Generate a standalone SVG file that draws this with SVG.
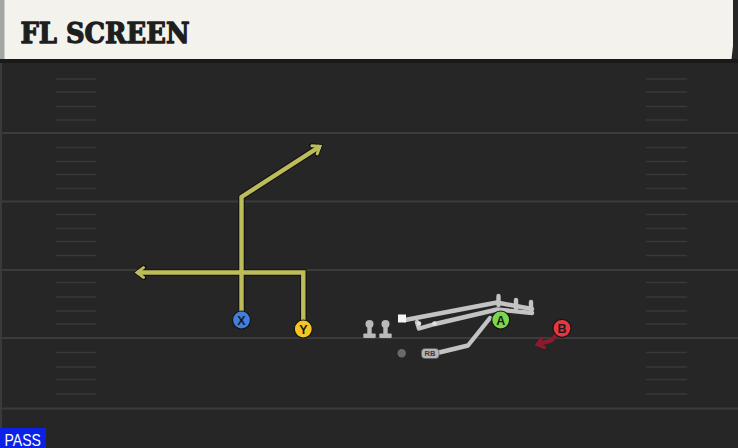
<svg xmlns="http://www.w3.org/2000/svg" width="738" height="448" viewBox="0 0 738 448">
<style>
.yard{stroke:#3b3b3b;stroke-width:2}
.hash{stroke:#383838;stroke-width:1.6}
.rt{fill:none;stroke:#bcbc5a;stroke-width:4.4;stroke-linejoin:miter}
.rtb{fill:none;stroke:#111;stroke-width:6.4;stroke-linejoin:miter}
.gr{fill:none;stroke:#c3c3c3;stroke-width:4.4;stroke-linecap:round;stroke-linejoin:round}
.lbl{font-family:"Liberation Sans","DejaVu Sans",sans-serif;font-weight:bold;font-size:12.5px;fill:#1b1b1b;text-anchor:middle}
.pc{stroke:#151515;stroke-width:1.2}
</style>
<defs>
<marker id="ay" viewBox="0 0 12 12" refX="9" refY="6" markerWidth="13" markerHeight="13" markerUnits="userSpaceOnUse" orient="auto">
<path d="M3,1.5 L9,6 L3,10.5" fill="none" stroke="#bcbc5a" stroke-width="2.8" stroke-linecap="round"/>
</marker>
<marker id="ab" viewBox="0 0 14 14" refX="10" refY="7" markerWidth="15" markerHeight="15" markerUnits="userSpaceOnUse" orient="auto">
<path d="M3.5,2 L10,7 L3.5,12" fill="none" stroke="#111" stroke-width="4.4" stroke-linecap="round"/>
</marker>
<marker id="ar" viewBox="0 0 12 12" refX="9" refY="6" markerWidth="13" markerHeight="13" markerUnits="userSpaceOnUse" orient="auto">
<path d="M3,1.5 L9,6 L3,10.5" fill="none" stroke="#8e1b2c" stroke-width="2.8" stroke-linecap="round"/>
</marker>
</defs>

<!-- field -->
<rect x="0" y="0" width="738" height="448" fill="#262626"/>
<rect x="0" y="59" width="738" height="4" fill="#1a1a1a"/>
<rect x="0" y="63" width="2" height="385" fill="#3a3a3a"/>

<g id="field-lines">
<line class="yard" x1="0" y1="133" x2="738" y2="133"/>
<line class="yard" x1="0" y1="201.5" x2="738" y2="201.5"/>
<line class="yard" x1="0" y1="270" x2="738" y2="270"/>
<line class="yard" x1="0" y1="338" x2="738" y2="338"/>
<line class="yard" x1="0" y1="408.5" x2="738" y2="408.5"/>
<g id="hash-left">
<line class="hash" x1="56" y1="79" x2="96" y2="79"/>
<line class="hash" x1="56" y1="92" x2="96" y2="92"/>
<line class="hash" x1="56" y1="106.5" x2="96" y2="106.5"/>
<line class="hash" x1="56" y1="120" x2="96" y2="120"/>
<line class="hash" x1="56" y1="147.5" x2="96" y2="147.5"/>
<line class="hash" x1="56" y1="161.5" x2="96" y2="161.5"/>
<line class="hash" x1="56" y1="174.5" x2="96" y2="174.5"/>
<line class="hash" x1="56" y1="188.5" x2="96" y2="188.5"/>
<line class="hash" x1="56" y1="214.5" x2="96" y2="214.5"/>
<line class="hash" x1="56" y1="228.5" x2="96" y2="228.5"/>
<line class="hash" x1="56" y1="241.5" x2="96" y2="241.5"/>
<line class="hash" x1="56" y1="255.5" x2="96" y2="255.5"/>
<line class="hash" x1="56" y1="282.5" x2="96" y2="282.5"/>
<line class="hash" x1="56" y1="297" x2="96" y2="297"/>
<line class="hash" x1="56" y1="311" x2="96" y2="311"/>
<line class="hash" x1="56" y1="324" x2="96" y2="324"/>
<line class="hash" x1="56" y1="352.5" x2="96" y2="352.5"/>
<line class="hash" x1="56" y1="367" x2="96" y2="367"/>
<line class="hash" x1="56" y1="379.5" x2="96" y2="379.5"/>
<line class="hash" x1="56" y1="394" x2="96" y2="394"/>
</g>
<g id="hash-right">
<line class="hash" x1="646" y1="79" x2="687" y2="79"/>
<line class="hash" x1="646" y1="92" x2="687" y2="92"/>
<line class="hash" x1="646" y1="106.5" x2="687" y2="106.5"/>
<line class="hash" x1="646" y1="120" x2="687" y2="120"/>
<line class="hash" x1="646" y1="147.5" x2="687" y2="147.5"/>
<line class="hash" x1="646" y1="161.5" x2="687" y2="161.5"/>
<line class="hash" x1="646" y1="174.5" x2="687" y2="174.5"/>
<line class="hash" x1="646" y1="188.5" x2="687" y2="188.5"/>
<line class="hash" x1="646" y1="214.5" x2="687" y2="214.5"/>
<line class="hash" x1="646" y1="228.5" x2="687" y2="228.5"/>
<line class="hash" x1="646" y1="241.5" x2="687" y2="241.5"/>
<line class="hash" x1="646" y1="255.5" x2="687" y2="255.5"/>
<line class="hash" x1="646" y1="282.5" x2="687" y2="282.5"/>
<line class="hash" x1="646" y1="297" x2="687" y2="297"/>
<line class="hash" x1="646" y1="311" x2="687" y2="311"/>
<line class="hash" x1="646" y1="324" x2="687" y2="324"/>
<line class="hash" x1="646" y1="352.5" x2="687" y2="352.5"/>
<line class="hash" x1="646" y1="367" x2="687" y2="367"/>
<line class="hash" x1="646" y1="379.5" x2="687" y2="379.5"/>
<line class="hash" x1="646" y1="394" x2="687" y2="394"/>
</g>
</g>

<!-- header -->
<g id="header">
<path d="M0,0 H733 V46 L731.5,59 H0 Z" fill="#f4f2ec"/>
<rect x="0" y="0" width="4.5" height="59" fill="#a3a6a3"/>
<text x="20.5" y="42.7" font-family="'DejaVu Serif','Liberation Serif',serif" font-weight="bold" font-size="28" fill="#1e1e1e" stroke="#1e1e1e" stroke-width="1.3" stroke-linejoin="round" textLength="169" lengthAdjust="spacingAndGlyphs">FL SCREEN</text>
</g>

<!-- connectors -->
<g id="connectors">
<path class="rtb" d="M241.5,312 V197 L320,146.3" marker-end="url(#ab)"/>
<path class="rtb" d="M303.3,321 V272.5 H137" marker-end="url(#ab)"/>
<path class="rt" d="M241.5,312 V197 L320,146.3" marker-end="url(#ay)"/>
<path class="rt" d="M303.3,321 V272.5 H137" marker-end="url(#ay)"/>
<path d="M557,334 L551.5,340.5 L537,344.5" fill="none" stroke="#8e1b2c" stroke-width="4" stroke-linejoin="round" marker-end="url(#ar)"/>
<g id="grey-routes">
<polyline class="gr" points="405,320 497,302.5 532,309"/>
<polyline class="gr" points="417,322 419,328.5 435,324 497,309.5 532,313"/>
<line class="gr" x1="498.5" y1="296" x2="498.5" y2="305"/>
<line class="gr" x1="516" y1="300" x2="516" y2="309"/>
<line class="gr" x1="531" y1="302" x2="531" y2="312"/>
<polyline class="gr" points="490,318 468,345.5 437,353"/>
<circle cx="419" cy="323.5" r="2.2" fill="#e2e2e2"/>
<circle cx="434.5" cy="323.5" r="2.2" fill="#e2e2e2"/>
</g>
</g>

<!-- nodes -->
<g id="node-X">
<circle class="pc" cx="241.5" cy="320" r="9" fill="#3f7fe0"/>
<text class="lbl" x="241.5" y="324.5">X</text>
</g>
<g id="node-Y">
<circle class="pc" cx="303.3" cy="329" r="9" fill="#f4c623"/>
<text class="lbl" x="303.3" y="333.5">Y</text>
</g>
<g id="node-A">
<circle class="pc" cx="500.7" cy="320" r="9" fill="#7ad64b"/>
<text class="lbl" x="500.7" y="324.5">A</text>
</g>
<g id="node-B">
<circle class="pc" cx="562" cy="328.3" r="9" fill="#e8363f"/>
<text class="lbl" x="562" y="332.8">B</text>
</g>
<g id="node-QB">
<rect x="398" y="314.5" width="8" height="8" fill="#f4f4f4"/>
</g>
<g id="node-T1">
<circle cx="369.5" cy="324" r="4" fill="#b9b9b9"/>
<rect x="367.3" y="324" width="4.4" height="10" fill="#b9b9b9"/>
<rect x="363.3" y="333.5" width="12.4" height="4.5" rx="1" fill="#b9b9b9"/>
</g>
<g id="node-T2">
<circle cx="385.5" cy="324" r="4" fill="#b9b9b9"/>
<rect x="383.3" y="324" width="4.4" height="10" fill="#b9b9b9"/>
<rect x="379.3" y="333.5" width="12.4" height="4.5" rx="1" fill="#b9b9b9"/>
</g>
<g id="node-dot">
<circle cx="401.7" cy="353.3" r="4.2" fill="#6a6a6a"/>
</g>
<g id="node-RB">
<rect x="421.5" y="348.5" width="17.5" height="10" rx="3.5" fill="#b5b5b5" stroke="#555" stroke-width="0.6"/>
<text x="430" y="356.2" font-family="'Liberation Sans',sans-serif" font-weight="bold" font-size="7.5" fill="#3a3a3a" text-anchor="middle">RB</text>
</g>

<g id="pass-badge">
<rect x="0" y="428" width="46" height="20" fill="#0a22e6"/>
<text x="4.5" y="445.5" font-family="'Liberation Sans','DejaVu Sans',sans-serif" font-size="17" fill="#ffffff" textLength="36.5" lengthAdjust="spacingAndGlyphs">PASS</text>
</g>
</svg>
